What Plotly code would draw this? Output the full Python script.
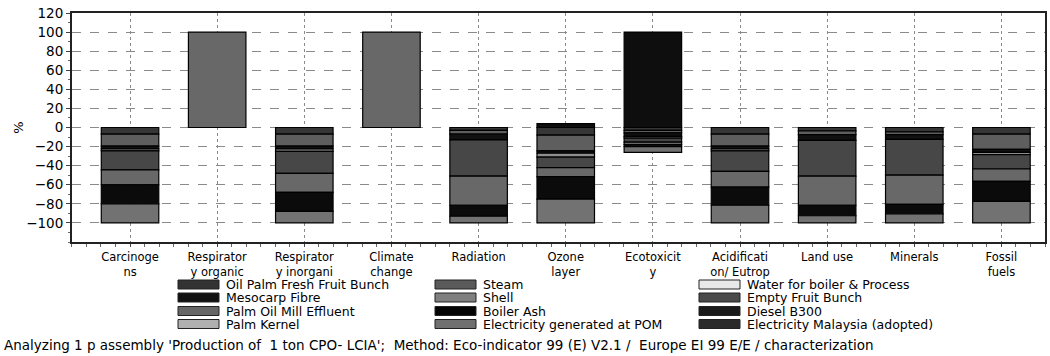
import plotly.graph_objects as go

categories = ["Carcinoge<br>ns", "Respirator<br>y organic", "Respirator<br>y inorgani", "Climate<br>change",
              "Radiation", "Ozone<br>layer", "Ecotoxicit<br>y", "Acidificati<br>on/ Eutrop",
              "Land use", "Minerals", "Fossil<br>fuels"]

series_names = ["Oil Palm Fresh Fruit Bunch", "Steam", "Water for boiler & Process",
                "Mesocarp Fibre", "Shell", "Empty Fruit Bunch",
                "Palm Oil Mill Effluent", "Boiler Ash", "Diesel B300",
                "Palm Kernel", "Electricity generated at POM", "Electricity Malaysia (adopted)"]

# values in % per category (negative = below zero)
ffb       = [-7,   0, -7,   0, -3,   -8,   -3,   -7,   -3.5, -4.5, -7]
steam     = [-12.5, 0, -12.5, 0, -4, -16.5, -2.6, -12.5, -4,   -3,   -16]
water     = [0, 0, 0, 0, 0, 0, 0, 0, 0, 0, 0]
mesocarp  = [-3,   0, -3,   0, -6,   -2.5, -3.8, -3,   -6,   -5,   -3]
shell     = [-2,   0, -2.5, 0,  0,   -4,   -1.8, -2,    0,    0,   -2.5]
efb       = [-20,  0, -23,  0, -38,  -11,  -4.2, -21.5, -37.5, -37.5, -15]
pome      = [-15.5, 100, -20, 100, -30.5, -9.5, -2.4, -16.5, -30.5, -30.5, -13]
boiler    = [-20,  0, -20,  0, -11.5, -23.5, -2.2, -19,  -11,  -10,  -21]
diesel    = [0,    0, 0,    0,  0,    4,    100,  0,    0,    0,    0]
kernel    = [0, 0, 0, 0, 0, 0, 0, 0, 0, 0, 0]
elec_pom  = [-20,  0, -12,  0, -7,   -25,  -6,   -18.5, -7.5, -9.5, -22.5]
elec_my   = [0, 0, 0, 0, 0, 0, 0, 0, 0, 0, 0]

series_values = [ffb, steam, water, mesocarp, shell, efb, pome, boiler, diesel, kernel, elec_pom, elec_my]
bar_colors = ["#363636", "#5e5e5e", "#e6e6e6", "#111111", "#8e8e8e", "#474747",
              "#686868", "#0b0b0b", "#0e0e0e", "#b4b4b4", "#727272", "#2a2a2a"]
legend_colors = ["#333333", "#5a5a5a", "#e8e8e8", "#111111", "#808080", "#4a4a4a",
                 "#666666", "#050505", "#1a1a1a", "#b0b0b0", "#707070", "#2a2a2a"]

y_ticks = [-100, -80, -60, -40, -20, 0, 20, 40, 60, 80, 100, 120]

footer = ("Analyzing 1 p assembly 'Production of  1 ton CPO- LCIA';  Method: Eco-indicator 99 (E) V2.1 /  "
          "Europe EI 99 E/E / characterization")

W, H = 1050, 356
L, R, T, B = 72, 5, 13, 114
FONT = "DejaVu Sans, Arial, sans-serif"

fig = go.Figure()
xs = list(range(len(categories)))
for name, vals, col in zip(series_names, series_values, bar_colors):
    fig.add_trace(go.Bar(
        x=xs, y=[v if v != 0 else None for v in vals], name=name,
        marker=dict(color=col, line=dict(color="#000000", width=1.2)),
        width=0.66, showlegend=False))

fig.update_layout(
    width=W, height=H, barmode="relative",
    margin=dict(l=L, r=R, t=T, b=B),
    plot_bgcolor="white", paper_bgcolor="white",
    font=dict(family=FONT, size=13, color="#000000"),
    xaxis=dict(range=[-0.666, 10.5], tickvals=xs, ticktext=categories,
               showgrid=True, gridcolor="#8a8a8a", griddash="dot", gridwidth=1,
               showline=True, linecolor="#222222", linewidth=2, mirror=True,
               ticks="outside", ticklen=3, tickcolor="#444444",
               minor=dict(dtick=1/6, tick0=0, ticks="outside", ticklen=3, tickcolor="#666666"),
               tickfont=dict(size=11.5), zeroline=False, automargin=False),
    yaxis=dict(range=[-120, 120], tickvals=y_ticks,
               showgrid=True, gridcolor="#8a8a8a", griddash="dash", gridwidth=1,
               showline=True, linecolor="#222222", linewidth=2, mirror=True,
               ticks="outside", ticklen=4, tickcolor="#444444",
               minor=dict(dtick=10, ticks="outside", ticklen=2, tickcolor="#666666"),
               tickfont=dict(size=13.5), zeroline=False, automargin=False,
               title=dict(text="%", font=dict(size=13), standoff=0)),
)

# manual legend (3 columns x 4 rows, filled row-wise)
pw = W - L - R
ph = H - T - B
def px2paper(px, py):
    return (px - L) / pw, (H - B - py) / ph

col_box_x = [178, 435, 699]
row_y = [284.5, 297.5, 311, 324]
for i, (name, col) in enumerate(zip(series_names, legend_colors)):
    r, c = divmod(i, 3)
    bx0, by0 = px2paper(col_box_x[c], row_y[r] - 4.5)
    bx1, by1 = px2paper(col_box_x[c] + 41, row_y[r] + 4.5)
    fig.add_shape(type="rect", xref="paper", yref="paper", x0=bx0, x1=bx1, y0=by0, y1=by1,
                  fillcolor=col, line=dict(color="#222222", width=1))
    tx, ty = px2paper(col_box_x[c] + 46, row_y[r])
    fig.add_annotation(xref="paper", yref="paper", x=tx, y=ty, text=name, showarrow=False,
                       xanchor="left", yanchor="middle", font=dict(size=12.5, family=FONT))

fx, fy = px2paper(2, 345)
fig.add_annotation(xref="paper", yref="paper", x=fx, y=fy, text=footer, showarrow=False,
                   xanchor="left", yanchor="middle", font=dict(size=13.5, family=FONT))

fig.write_html("out.html", config={"displayModeBar": False},
               post_script="document.body.style.margin='0';document.body.style.overflow='hidden';")
